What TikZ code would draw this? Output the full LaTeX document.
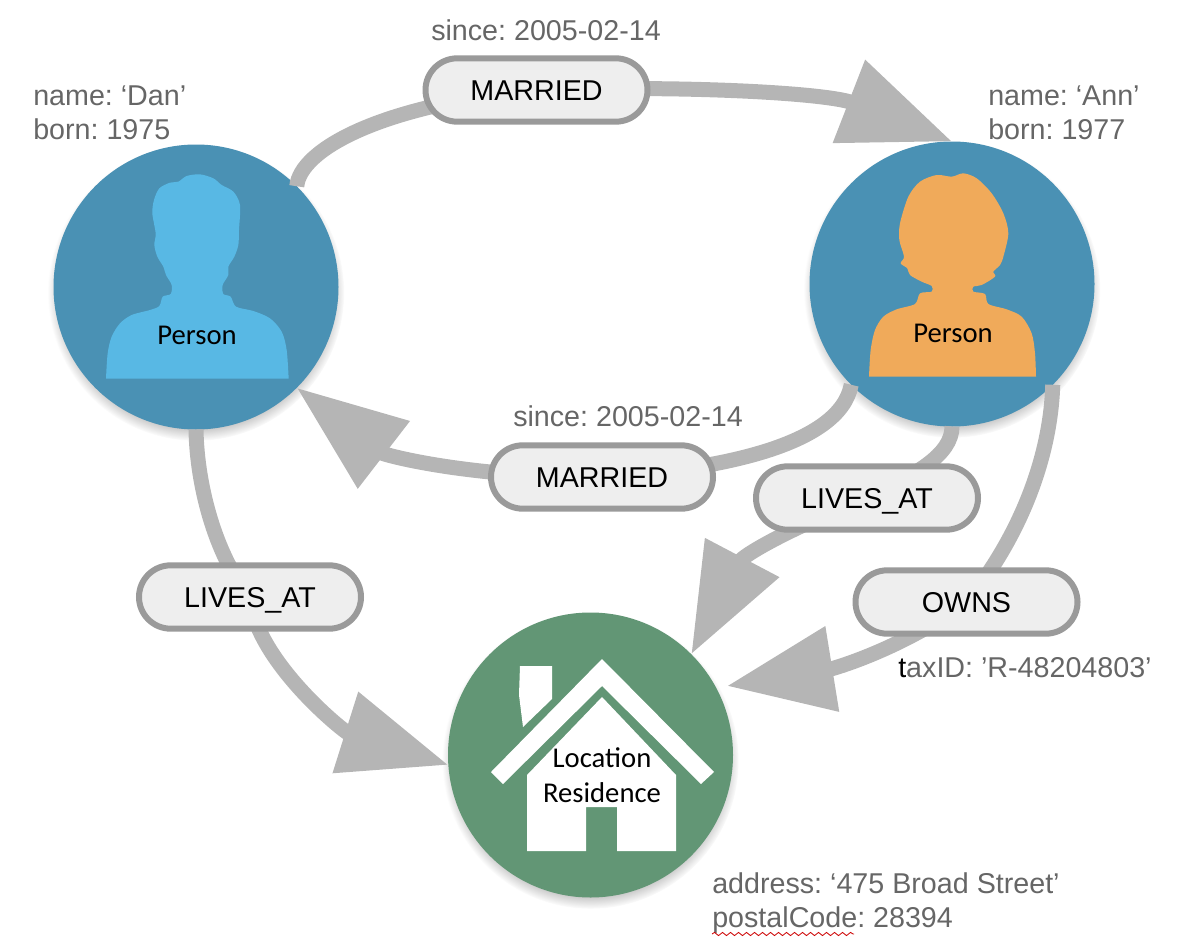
\documentclass[tikz,border=0pt]{standalone}
\usepackage{fontspec}
\setmainfont{Liberation Sans}
\newfontfamily\labelfont{Carlito}
\usetikzlibrary{arrows.meta,shapes.misc,shadows,decorations.pathmorphing}
\frenchspacing
\definecolor{personblue}{HTML}{4A91B4}
\definecolor{danblue}{HTML}{58B8E4}
\definecolor{annorange}{HTML}{F0AA5A}
\definecolor{homegreen}{HTML}{629675}
\definecolor{relgray}{HTML}{B5B5B5}
\definecolor{pillgray}{HTML}{9A9A9A}
\definecolor{pillfill}{HTML}{EEEEEE}
\definecolor{propgray}{HTML}{666666}
\pgfdeclarelayer{pills}
\pgfsetlayers{main,pills}
\tikzset{
  entity/.style={circle, minimum size=213.75pt, inner sep=0pt, outer sep=0pt,
    circular drop shadow={shadow xshift=0pt, shadow yshift=-4pt, shadow scale=1.04, opacity=.75}},
  reltype/.style={rounded rectangle, draw=pillgray, line width=4.5pt, fill=pillfill,
    minimum width=166.5pt, minimum height=47.5pt, inner sep=0pt, text height=15.4pt, text depth=0pt,
    font=\fontsize{21.5}{25.5}\selectfont},
  rel/.style={draw=relgray, line width=11.25pt},
  bigtip/.style n args={2}{-{Triangle[length=#1,width=#2]}},
  prop/.style={text=propgray, anchor=west, align=left, inner sep=0pt, font=\fontsize{21.5}{25.5}\selectfont},
  kind/.style={font=\labelfont\fontsize{21.5}{26}\selectfont, align=center, inner sep=0pt}
}
\begin{document}
\begin{tikzpicture}[x=0.75pt, y=-0.75pt]
    \useasboundingbox (0,0) rectangle (1178,942);

    % ==== Circles ====
    \node[entity, fill=personblue] (dan) at (196,287) {};
    \node[entity, fill=personblue] (ann) at (952,284) {};
    \node[entity, fill=homegreen] (home) at (590.5,755) {};
    \coordinate (ownstip) at (727,686);

    % Silhouettes, traced in 3x pixels
    \begin{scope}[shift={(40,150)}, x=0.25pt, y=-0.25pt]
      \fill[danblue] plot[smooth, tension=.5] coordinates {(198,686) (203,610) (215,560) (240,520) (275,495) (330,480) (358,468) (368,440) (392,432) (395,405) (378,375) (370,350) (352,320) (343,285) (347,250) (337,190) (342,150) (358,115) (390,98) (415,95) (440,78) (480,73) (520,85) (545,105) (580,125) (600,165) (597,240) (595,285) (583,320) (565,350) (565,375) (548,405) (550,432) (572,440) (588,470) (640,483) (690,505) (725,545) (740,600) (746,686)} -- cycle;
    \end{scope}
    \begin{scope}[shift={(800,150)}, x=0.25pt, y=-0.25pt]
      \fill[annorange] plot[smooth, tension=.5] coordinates {(207,680) (212,600) (225,540) (250,500) (290,478) (345,462) (360,430) (395,425) (395,408) (365,395) (330,375) (322,355) (302,340) (312,320) (298,270) (300,220) (325,140) (360,95) (410,75) (455,80) (490,70) (530,85) (575,130) (610,190) (625,250) (610,320) (600,345) (580,365) (585,380) (545,405) (520,410) (520,425) (555,432) (565,462) (620,478) (665,500) (695,550) (705,610) (708,680)} -- cycle;
    \end{scope}

    % House
    \fill[white] (602,659) -- (714,772) -- (701,784) -- (602,686) -- (503,784) -- (491,772) -- cycle;
    \fill[white] (602,697) -- (676,775) -- (676,851) -- (617,851) -- (617,807) -- (586,807) -- (586,851) -- (527,851) -- (527,775) -- cycle;
    \fill[white] (520,666) -- (552,666) -- (552,699) -- (523,727) -- (519,695) -- cycle;

    % Labels inside the circles
    \node[kind] (danlabel) at (197,335) {Person};
    \node[kind] (annlabel) at (953,333) {Person};
    \node[kind] (homelabel) at (602,775) {Location\\Residence};

    % ==== Relationship types ====
    \begin{pgfonlayer}{pills}
      \node[reltype] (marriedtop) at (536.5,90) {MARRIED};
      \node[reltype] (marriedlow) at (602,477) {MARRIED};
      \node[reltype] (livesann) at (867,498) {LIVES\_AT};
      \node[reltype] (owns) at (966.5,602) {OWNS};
      \node[reltype] (livesdan) at (250,597) {LIVES\_AT};
    \end{pgfonlayer}

    % ==== Connectors ====
    \draw[rel] (dan.45) .. controls (300,150) and (380,105) .. (marriedtop.center);
    \draw[rel, bigtip={83pt}{64pt}] (marriedtop.center) .. controls (700,85) and (830,94) .. (ann.north);
    \draw[rel] (ann.-135) .. controls (840,445) and (720,470) .. (marriedlow.center);
    \draw[rel, bigtip={82.5pt}{61pt}] (marriedlow.center) .. controls (470,478) and (384,455) .. (dan.-45);
    \draw[rel] (ann.south) .. controls (952,455) and (915,475) .. (livesann.center);
    \draw[rel, bigtip={82pt}{60pt}] (livesann.center) .. controls (785,530) and (743,556) .. (home.45);
    \draw[rel] (ann.-45) .. controls (1050,470) and (1010,550) .. (owns.center);
    \draw[rel, bigtip={80pt}{62pt}] (owns.center) .. controls (900,650) and (832,669) .. (ownstip);
    \draw[rel] (dan.south) .. controls (197,490) and (218,560) .. (livesdan.center);
    \draw[rel, bigtip={81pt}{61pt}] (livesdan.center) .. controls (255,660) and (344,732) .. (home.184);

    % ==== Properties ====
    \node[prop] (dantext) at (33,113) {name: ‘Dan’\\born: 1975};
    \node[prop] (anntext) at (988,113) {name: ‘Ann’\\born: 1977};
    \node[prop] (sincetop) at (431,30) {since: 2005-02-14};
    \node[prop] (sincelow) at (513,416) {since: 2005-02-14};
    \node[prop] (taxtext) at (898,668) {{\color{black}t}axID: ’R-48204803’};
    \node[prop] (hometext) at (712,903.5) {address: ‘475 Broad Street’\\postalCode: 28394};

    % Spell check squiggle
    \coordinate (squigstart) at (712,934);
    \coordinate (squigend) at (854,934);
    \draw[red!80!black, line width=.6pt, decorate, decoration={snake, amplitude=1.2pt, segment length=6pt}] (squigstart) -- (squigend);
\end{tikzpicture}
\end{document}
